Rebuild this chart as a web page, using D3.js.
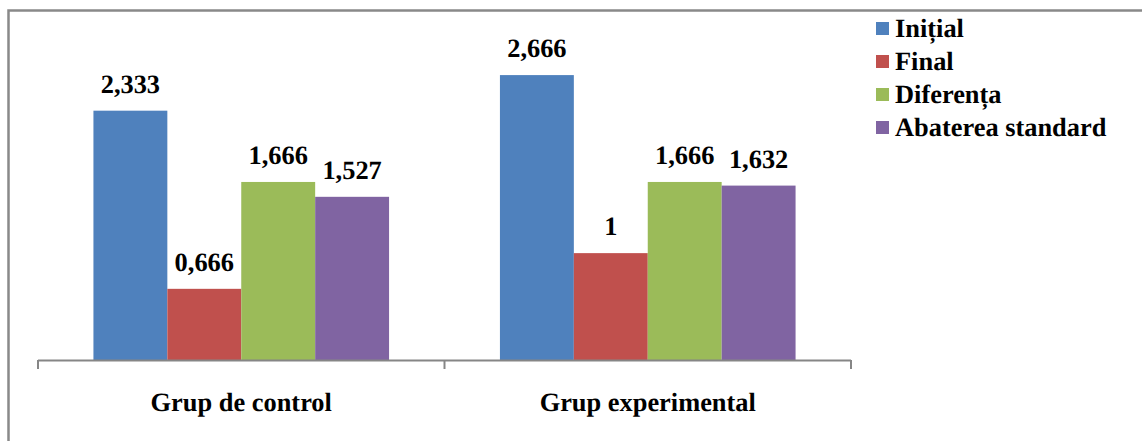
<!DOCTYPE html>
<html>
<head>
<meta charset="utf-8">
<script src="https://cdn.jsdelivr.net/npm/d3@7"></script>
<style>
  html, body { margin: 0; padding: 0; background: #fff; }
  svg { display: block; }
</style>
</head>
<body>
<svg id="chart" width="1142" height="441"></svg>
<script>
const categories = ["Grup de control", "Grup experimental"];
const seriesNames = ["Inițial", "Final", "Diferența", "Abaterea standard"];
const seriesColors = ["#4F81BD", "#C0504D", "#9BBB59", "#8064A2"];
const valuesInitial = [2.333, 2.666];
const valuesFinal = [0.666, 1];
const valuesDiferenta = [1.666, 1.666];
const valuesAbatere = [1.527, 1.632];
const labelsInitial = ["2,333", "2,666"];
const labelsFinal = ["0,666", "1"];
const labelsDiferenta = ["1,666", "1,666"];
const labelsAbatere = ["1,527", "1,632"];

const seriesValues = [valuesInitial, valuesFinal, valuesDiferenta, valuesAbatere];
const seriesLabels = [labelsInitial, labelsFinal, labelsDiferenta, labelsAbatere];

const FONT = "Liberation Serif";
const FS = 26.4;

const svg = d3.select("#chart").attr("text-rendering", "geometricPrecision");

// outer border (chart area, cropped at right/bottom)
svg.append("rect")
  .attr("x", 8.5).attr("y", 10.5)
  .attr("width", 1300).attr("height", 600)
  .attr("fill", "none").attr("stroke", "#898989").attr("stroke-width", 2.5);

const plotLeft = 38, plotRight = 851, baseY = 360;
const x0 = d3.scaleBand().domain(categories).range([plotLeft, plotRight]).padding(0);
const bw = x0.bandwidth();
const barW = bw / (seriesNames.length + 1.5);
const x1 = d3.scaleBand().domain(seriesNames)
  .range([barW * 0.75, bw - barW * 0.75]).padding(0);
const y = d3.scaleLinear().domain([0, 3]).range([baseY, baseY - 320.6]);

const rows = categories.map((c, i) => ({
  cat: c,
  items: seriesNames.map((s, j) => ({ s, j, v: seriesValues[j][i], lbl: seriesLabels[j][i] }))
}));

const groups = svg.selectAll("g.grp").data(rows).enter().append("g")
  .attr("class", "grp")
  .attr("transform", d => `translate(${x0(d.cat)},0)`);

groups.selectAll("rect").data(d => d.items).enter().append("rect")
  .attr("x", d => x1(d.s))
  .attr("width", x1.bandwidth())
  .attr("y", d => y(d.v))
  .attr("height", d => baseY - y(d.v))
  .attr("fill", d => seriesColors[d.j]);

groups.selectAll("text.val").data(d => d.items).enter().append("text")
  .attr("class", "val")
  .attr("x", d => x1(d.s) + x1.bandwidth() / 2)
  .attr("y", d => y(d.v) - 18)
  .attr("text-anchor", "middle")
  .attr("font-family", FONT).attr("font-weight", "bold")
  .attr("font-size", FS)
  .text(d => d.lbl);

// x axis
const axis = d3.axisBottom(x0).tickSize(0).tickPadding(0);
const axG = svg.append("g").attr("transform", `translate(0,${baseY})`).call(axis);
axG.select(".domain").remove();
axG.selectAll("text").remove();

svg.append("line")
  .attr("x1", plotLeft).attr("x2", plotRight)
  .attr("y1", baseY + 0.5).attr("y2", baseY + 0.5)
  .attr("stroke", "#868686").attr("stroke-width", 2);

const boundaries = [plotLeft].concat(categories.map(c => x0(c) + bw));
svg.selectAll("line.tick").data(boundaries).enter().append("line")
  .attr("class", "tick")
  .attr("x1", d => d).attr("x2", d => d)
  .attr("y1", baseY).attr("y2", baseY + 9)
  .attr("stroke", "#868686").attr("stroke-width", 2);

svg.selectAll("text.cat").data(categories).enter().append("text")
  .attr("class", "cat")
  .attr("x", d => x0(d) + bw / 2)
  .attr("y", 411)
  .attr("text-anchor", "middle")
  .attr("font-family", FONT).attr("font-weight", "bold")
  .attr("font-size", FS)
  .text(d => d);

// legend
const leg = svg.selectAll("g.leg").data(seriesNames).enter().append("g")
  .attr("class", "leg")
  .attr("transform", (d, i) => `translate(876,${22 + i * 33})`);
leg.append("rect")
  .attr("width", 13).attr("height", 13)
  .attr("fill", (d, i) => seriesColors[i]);
leg.append("text")
  .attr("x", 19).attr("y", 14.5)
  .attr("font-family", FONT).attr("font-weight", "bold")
  .attr("font-size", FS)
  .text(d => d);
</script>
</body>
</html>
